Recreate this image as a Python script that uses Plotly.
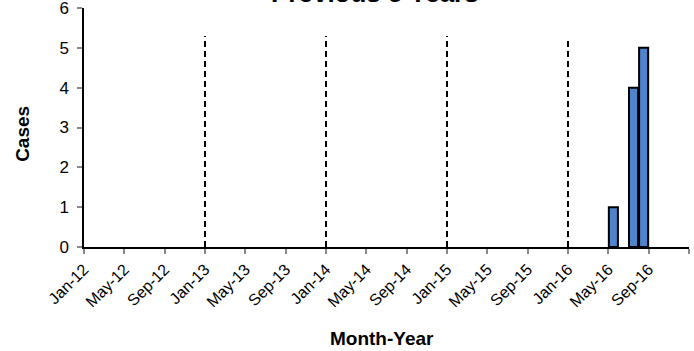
import plotly.graph_objects as go

# monthly series Jan-12 .. Dec-16
month_names = ["Jan", "Feb", "Mar", "Apr", "May", "Jun", "Jul", "Aug", "Sep", "Oct", "Nov", "Dec"]
years = ["12", "13", "14", "15", "16"]
months = [m + "-" + y for y in years for m in month_names]

cases = [0] * 60
cases[months.index("May-16")] = 1
cases[months.index("Jul-16")] = 4
cases[months.index("Aug-16")] = 5

tick_labels = ["Jan-12", "May-12", "Sep-12", "Jan-13", "May-13", "Sep-13", "Jan-14", "May-14",
               "Sep-14", "Jan-15", "May-15", "Sep-15", "Jan-16", "May-16", "Sep-16"]
year_breaks = ["Jan-13", "Jan-14", "Jan-15", "Jan-16"]
break_height = [5.3, 5.3, 5.3, 5.25]

font = "Liberation Sans, Arial, sans-serif"

fig = go.Figure()

bx = [i + 0.5 for i, c in enumerate(cases) if c > 0]
by = [c for c in cases if c > 0]
fig.add_trace(go.Bar(
    x=bx, y=by, width=0.9,
    marker=dict(color="#4f83cc", line=dict(color="black", width=2)),
    showlegend=False
))

for m, h in zip(year_breaks, break_height):
    i = months.index(m)
    fig.add_trace(go.Scatter(
        x=[i, i], y=[0, h], mode="lines",
        line=dict(color="black", width=2, dash="6px,4px"),
        showlegend=False
    ))

fig.update_layout(
    width=694, height=351,
    margin=dict(l=84, r=5, t=8, b=104),
    plot_bgcolor="white", paper_bgcolor="white",
    font=dict(family=font, color="black", size=16),
    annotations=[
        dict(text="<b>Previous 5 Years</b>", x=0.481, y=1.0, xref="paper", yref="paper",
             xanchor="center", yanchor="bottom", yshift=-2, showarrow=False,
             font=dict(size=26)),
        dict(text="<b>Month-Year</b>", x=0.4926, y=-0.381, xref="paper", yref="paper",
             xanchor="center", yanchor="middle", showarrow=False, font=dict(size=19)),
        dict(text="<b>Cases</b>", x=-0.101, y=0.473, xref="paper", yref="paper",
             xanchor="center", yanchor="middle", textangle=-90, showarrow=False,
             font=dict(size=19)),
    ]
)
fig.update_xaxes(
    range=[0, 60], tickmode="array",
    tickvals=[months.index(t) for t in tick_labels] + [60],
    ticktext=tick_labels + [""],
    tickangle=-45, ticks="outside", ticklen=5, tickcolor="#888", tickwidth=1.5,
    tickfont=dict(size=16),
    showline=True, linecolor="black", linewidth=1.5, showgrid=False, zeroline=False,
    automargin=False
)
fig.update_yaxes(
    range=[0, 6], tickmode="array", tickvals=[0, 1, 2, 3, 4, 5, 6],
    ticks="outside", ticklen=5, tickcolor="#888", tickwidth=1.5,
    tickfont=dict(size=17), ticklabelstandoff=5, ticklabeloverflow="allow",
    showline=True, linecolor="black", linewidth=1.5, showgrid=False, zeroline=False,
    automargin=False
)

fig.write_html("out.html", config={"displayModeBar": False},
               post_script="document.body.style.margin='0';")
